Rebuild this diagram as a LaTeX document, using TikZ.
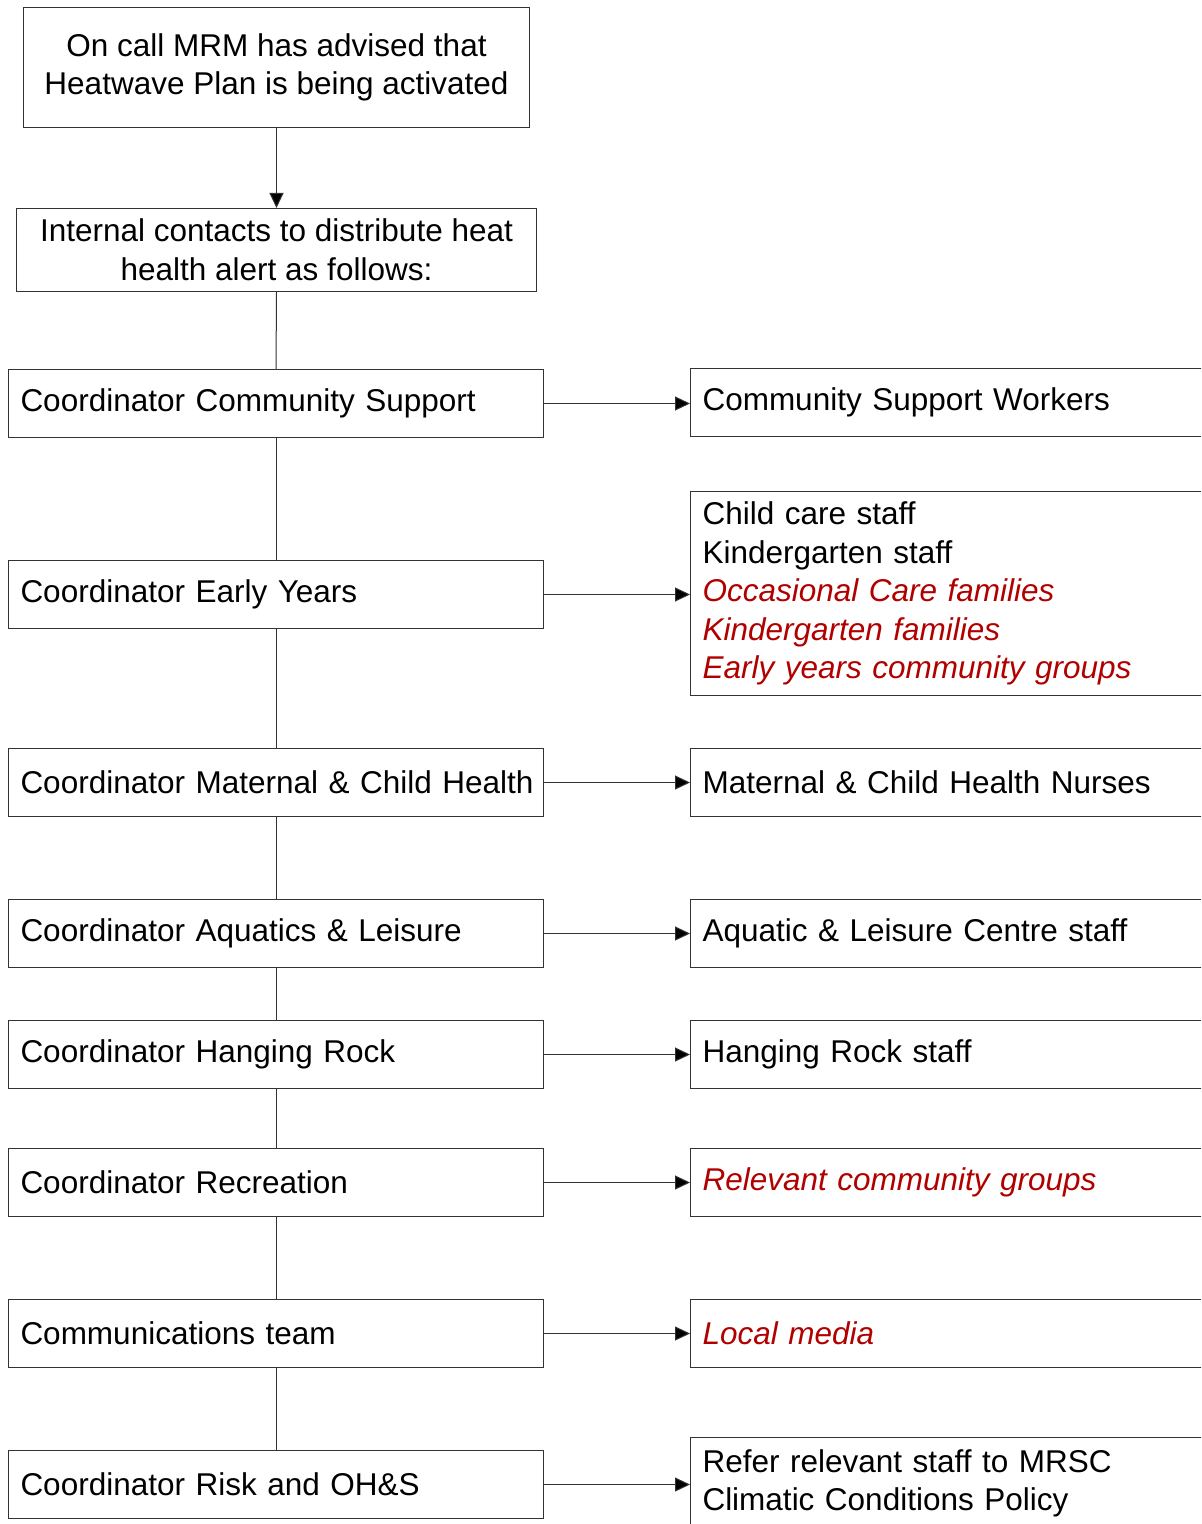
\documentclass[tikz,border=0pt]{standalone}
\usepackage{fontspec}
\setmainfont{Liberation Sans}
\usetikzlibrary{arrows.meta,positioning}
\definecolor{alertred}{HTML}{B00000}
\definecolor{edge}{HTML}{333333}
\newcommand{\boxfont}{\fontsize{15.75pt}{19.3pt}\selectfont}
\newcommand{\alert}[1]{{\color{alertred}\itshape #1}}

\begin{document}
\begin{tikzpicture}[
 x=0.5pt,y=-0.5pt,
 box/.style={draw=edge,line width=0.5pt,anchor=north west,align=center,font=\boxfont,inner sep=0pt},
 lbox/.style={box,align=left,text width=255.5pt,inner xsep=6pt,minimum height=34pt},
 rbox/.style={box,align=left,text width=250.5pt,inner xsep=6pt,minimum height=34pt},
 arr/.style={-{Triangle[length=7.5pt,width=7pt,fill=black]},line width=0.5pt,draw=edge},
 link/.style={line width=0.5pt,draw=edge}
]
\clip (0,0) rectangle (1201,1524);
\useasboundingbox (0,0) rectangle (1201,1524);
% top of the cascade
\node[box,minimum width=253pt,minimum height=60pt] (advised) at (23,7) {On call MRM has advised that\\Heatwave Plan is being activated};
\node[box,minimum width=260pt,minimum height=41.5pt] (internal) at (16,208) {Internal contacts to distribute heat\\health alert as follows:};
% coordinators
\node[lbox] (commsup) at (8,369) {Coordinator Community Support};
\node[lbox] (earlyyrs) at (8,560) {Coordinator Early Years};
\node[lbox] (mch) at (8,748) {\mbox{Coordinator Maternal \& Child Health}};
\node[lbox] (aquatics) at (8,899) {Coordinator Aquatics \& Leisure};
\node[lbox] (hrock) at (8,1020) {Coordinator Hanging Rock};
\node[lbox] (recreation) at (8,1148) {Coordinator Recreation};
\node[lbox] (comms) at (8,1299) {Communications team};
\node[lbox] (risk) at (8,1450) {Coordinator Risk and OH\&S};
% who each coordinator passes the alert to
\node[rbox] (csw) at (690,368) {Community Support Workers};
\node[rbox,minimum height=102pt] (eylist) at (690,491) {Child care staff\\Kindergarten staff\\\alert{Occasional Care families}\\\alert{Kindergarten families}\\\alert{Early years community groups}};
\node[rbox] (nurses) at (690,748) {Maternal \& Child Health Nurses};
\node[rbox] (centre) at (690,899) {Aquatic \& Leisure Centre staff};
\node[rbox] (hrstaff) at (690,1020) {Hanging Rock staff};
\node[rbox] (groups) at (690,1148) {\alert{Relevant community groups}};
\node[rbox] (media) at (690,1299) {\alert{Local media}};
\node[rbox,minimum height=46pt] (policy) at (690,1437) {Refer relevant staff to MRSC\\Climatic Conditions Policy};
% spine
\draw[arr] (advised.south) -- (internal.north);
\draw[link] (internal.south) -- (commsup.north); \draw[link] (commsup.south) -- (earlyyrs.north);
\draw[link] (earlyyrs.south) -- (mch.north); \draw[link] (mch.south) -- (aquatics.north);
\draw[link] (aquatics.south) -- (hrock.north); \draw[link] (hrock.south) -- (recreation.north);
\draw[link] (recreation.south) -- (comms.north); \draw[link] (comms.south) -- (risk.north);
% branches
\draw[arr] (commsup.east) -- (commsup.east -| csw.west);
\draw[arr] (earlyyrs.east) -- (earlyyrs.east -| eylist.west);
\draw[arr] (mch.east) -- (mch.east -| nurses.west);
\draw[arr] (aquatics.east) -- (aquatics.east -| centre.west);
\draw[arr] (hrock.east) -- (hrock.east -| hrstaff.west);
\draw[arr] (recreation.east) -- (recreation.east -| groups.west);
\draw[arr] (comms.east) -- (comms.east -| media.west);
\draw[arr] (risk.east) -- (risk.east -| policy.west);
\end{tikzpicture}
\end{document}
